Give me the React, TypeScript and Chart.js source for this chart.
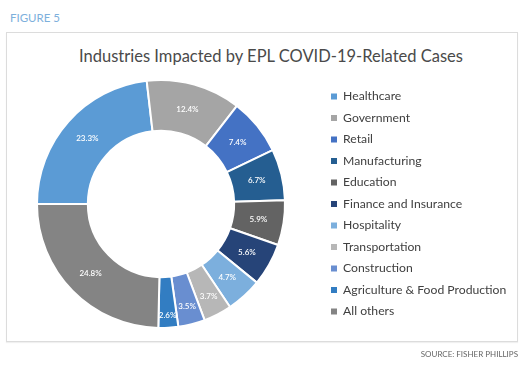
import React, { useEffect, useRef } from "react";
import { Chart, registerables } from "chart.js";

Chart.register(...registerables);

const categories = [
  "Healthcare",
  "Government",
  "Retail",
  "Manufacturing",
  "Education",
  "Finance and Insurance",
  "Hospitality",
  "Transportation",
  "Construction",
  "Agriculture & Food Production",
  "All others",
];
const shares = [23.3, 12.4, 7.4, 6.7, 5.9, 5.6, 4.7, 3.7, 3.5, 2.6, 24.8];
const colors = [
  "#5B9BD5",
  "#A5A5A5",
  "#4472C4",
  "#255E91",
  "#636363",
  "#264478",
  "#7CAFDD",
  "#B7B7B7",
  "#698ED0",
  "#327DC2",
  "#848484",
];

const chartTitle = "Industries Impacted by EPL COVID-19-Related Cases";
const figureLabel = "FIGURE 5";
const sourceLabel = "SOURCE: FISHER PHILLIPS";

const LEGEND_FONT = { family: "Lato", size: 12.2 };
const LEGEND_PAD = 9.3;
const BOX = 6;

const sliceLabels = {
  id: "sliceLabels",
  afterDatasetsDraw(chart: any) {
    const { ctx } = chart;
    const meta = chart.getDatasetMeta(0);
    const data = chart.data.datasets[0].data as number[];
    const total = data.reduce((a, b) => a + b, 0);
    ctx.save();
    ctx.fillStyle = "#ffffff";
    ctx.font = "600 8px Lato";
    ctx.textAlign = "center";
    ctx.textBaseline = "middle";
    meta.data.forEach((arc: any, i: number) => {
      const p = arc.getProps(["x", "y", "startAngle", "endAngle", "innerRadius", "outerRadius"], true);
      const mid = (p.startAngle + p.endAngle) / 2;
      const frac = data[i] / total;
      const ratio = 0.5 + Math.max(0, 0.045 - frac) * 13.7;
      const r = p.innerRadius + (p.outerRadius - p.innerRadius) * ratio;
      ctx.fillText(data[i].toFixed(1) + "%", p.x + Math.cos(mid) * r, p.y + Math.sin(mid) * r);
    });
    ctx.restore();
  },
};

export default function App() {
  const ref = useRef<HTMLCanvasElement>(null);

  useEffect(() => {
    const canvas = ref.current!;
    const mctx = canvas.getContext("2d")!;
    mctx.font = `${LEGEND_FONT.size}px ${LEGEND_FONT.family}`;
    const maxText = Math.max(...categories.map((c) => mctx.measureText(c).width));
    const itemWidth = BOX + LEGEND_FONT.size / 2 + maxText;
    const legendW = LEGEND_PAD + itemWidth + 10;
    const legendLeft = 331 - LEGEND_PAD;
    const padLeft = 322 - legendLeft;
    const padRight = 524 - legendLeft - legendW;

    const chart = new Chart(canvas, {
      type: "doughnut",
      data: {
        labels: categories,
        datasets: [
          {
            data: shares,
            backgroundColor: colors,
            borderColor: "#ffffff",
            borderWidth: 2,
          },
        ],
      },
      options: {
        responsive: false,
        animation: false,
        rotation: -90,
        cutout: "59%",
        layout: { padding: { top: 79, bottom: 36, left: padLeft, right: padRight } },
        plugins: {
          tooltip: { enabled: false },
          title: { display: false },
          legend: {
            position: "right",
            fullSize: false,
            labels: {
              boxWidth: BOX,
              boxHeight: BOX,
              padding: LEGEND_PAD,
              color: "#404040",
              font: LEGEND_FONT,
              generateLabels(c: any) {
                const base = (Chart as any).overrides.doughnut.plugins.legend.labels.generateLabels(c);
                return base.map((it: any) => ({ ...it, lineWidth: 0, strokeStyle: "rgba(0,0,0,0)" }));
              },
            },
          },
        },
      },
      plugins: [sliceLabels],
    });
    return () => chart.destroy();
  }, []);

  return (
    <div
      style={{
        position: "absolute",
        left: 0,
        top: 0,
        width: 524,
        height: 365,
        overflow: "hidden",
        background: "#ffffff",
        fontFamily: "Lato, sans-serif",
      }}
    >
      <div
        style={{
          position: "absolute",
          left: 10,
          top: 11,
          fontSize: 11.5,
          lineHeight: "14px",
          color: "#7DB0DC",
        }}
      >
        {figureLabel}
      </div>
      <div
        style={{
          position: "absolute",
          left: 6,
          top: 32,
          width: 512,
          height: 310,
          boxSizing: "border-box",
          border: "1px solid #dcdcdc",
          boxShadow: "0 1px 1px rgba(0,0,0,0.06)",
        }}
      />
      <div
        style={{
          position: "absolute",
          left: 21,
          top: 46,
          width: 500,
          textAlign: "center",
          fontSize: 16.5,
          lineHeight: "20px",
          color: "#4a4a4a",
        }}
      >
        {chartTitle}
      </div>
      <canvas
        ref={ref}
        width={524}
        height={365}
        style={{ position: "absolute", left: 0, top: 0, width: 524, height: 365 }}
      />
      <div
        style={{
          position: "absolute",
          right: 6,
          top: 348,
          fontSize: 8,
          lineHeight: "12px",
          color: "#666666",
        }}
      >
        {sourceLabel}
      </div>
    </div>
  );
}
